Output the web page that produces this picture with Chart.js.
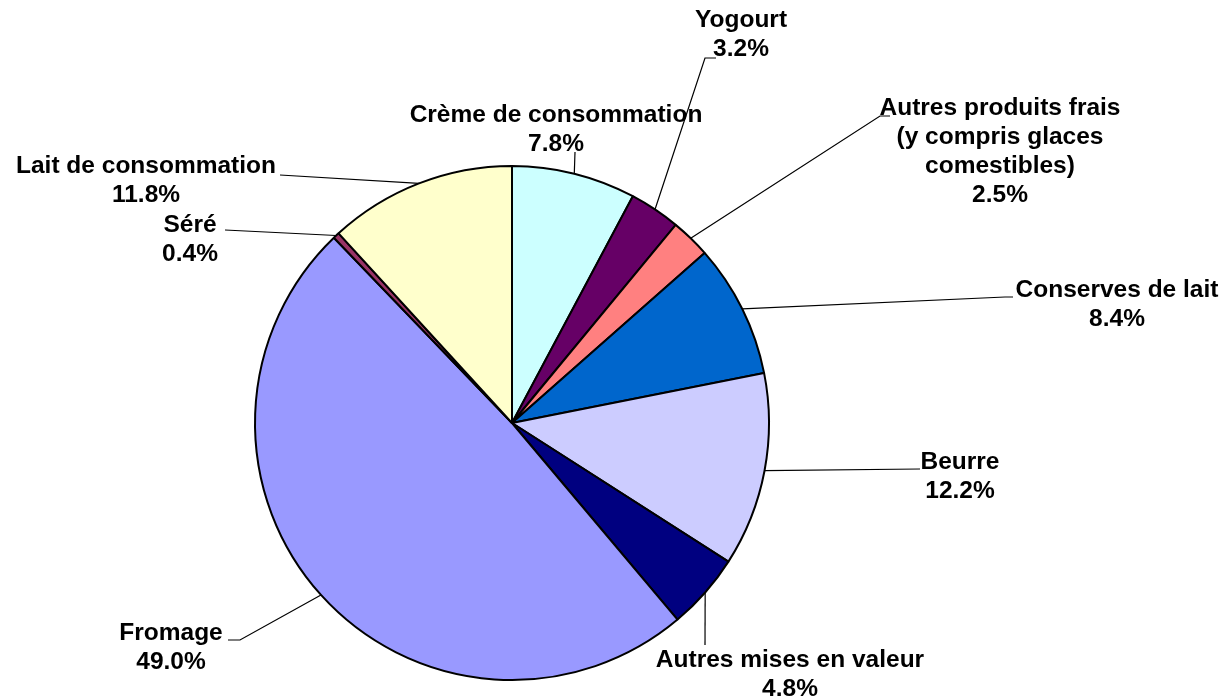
<!DOCTYPE html>
<html lang="fr">
  <head>
    <meta charset="UTF-8" />
    <title>Mise en valeur du lait</title>
    <script src="https://cdn.jsdelivr.net/npm/chart.js@4.4.0/dist/chart.umd.min.js"></script>
    <style>
      html, body { margin: 0; padding: 0; background: #fff; }
      #wrap { width: 1224px; height: 698px; }
    </style>
  </head>
  <body>
    <div id="wrap"><canvas id="myChart" width="1224" height="698"></canvas></div>

    <script>
      // categories and shares (%)
      const categories = [
        'Crème de consommation',
        'Yogourt',
        'Autres produits frais\n(y compris glaces\ncomestibles)',
        'Conserves de lait',
        'Beurre',
        'Autres mises en valeur',
        'Fromage',
        'Séré',
        'Lait de consommation'
      ];
      const shares = [7.8, 3.2, 2.5, 8.4, 12.2, 4.8, 49.0, 0.4, 11.8];
      const sliceColors = ['#CCFFFF', '#660066', '#FF8080', '#0066CC', '#CCCCFF', '#000080', '#9999FF', '#993366', '#FFFFCC'];

      // label placement: text centre, leader elbow, leader end
      const labelLayout = [
        { tx: 556, ty: 115, elbow: [575, 152], end: [575, 152] },
        { tx: 741, ty: 20, elbow: [705, 58], end: [716, 58] },
        { tx: 1000, ty: 108, elbow: [880, 116], end: [890, 116] },
        { tx: 1117, ty: 290, elbow: [1005, 297], end: [1013, 297] },
        { tx: 960, ty: 462, elbow: [920, 469], end: [920, 469] },
        { tx: 790, ty: 660, elbow: [705, 645], end: [705, 645] },
        { tx: 171, ty: 633, elbow: [240, 640], end: [228, 640] },
        { tx: 190, ty: 225, elbow: [225, 230], end: [225, 230] },
        { tx: 146, ty: 166, elbow: [280, 175], end: [280, 175] }
      ];

      const leaderLabels = {
        id: 'leaderLabels',
        afterDatasetsDraw(chart) {
          const ctx = chart.ctx;
          const arcs = chart.getDatasetMeta(0).data;
          ctx.save();
          ctx.strokeStyle = '#000';
          ctx.lineWidth = 1.2;
          ctx.fillStyle = '#000';
          ctx.font = 'bold 24.5px "Liberation Sans", Arial, sans-serif';
          ctx.textAlign = 'center';
          ctx.textBaseline = 'middle';
          arcs.forEach((arc, i) => {
            const p = arc.getProps(['x', 'y', 'startAngle', 'endAngle', 'outerRadius'], true);
            const mid = (p.startAngle + p.endAngle) / 2;
            const sx = p.x + Math.cos(mid) * p.outerRadius;
            const sy = p.y + Math.sin(mid) * p.outerRadius;
            const lay = labelLayout[i];
            ctx.beginPath();
            ctx.moveTo(sx, sy);
            ctx.lineTo(lay.elbow[0], lay.elbow[1]);
            ctx.lineTo(lay.end[0], lay.end[1]);
            ctx.stroke();
            const lines = categories[i].split('\n').concat([shares[i].toFixed(1) + '%']);
            lines.forEach((t, k) => {
              ctx.fillText(t, lay.tx, lay.ty + k * 29);
            });
          });
          ctx.restore();
        }
      };

      const ctx = document.getElementById('myChart').getContext('2d');
      const myChart = new Chart(ctx, {
        type: 'pie',
        data: {
          labels: categories,
          datasets: [{
            data: shares,
            backgroundColor: sliceColors,
            borderColor: '#000',
            borderWidth: 2
          }]
        },
        options: {
          responsive: false,
          animation: false,
          layout: { padding: { left: 254, right: 454, top: 165, bottom: 17 } },
          plugins: {
            legend: { display: false },
            tooltip: { enabled: false }
          }
        },
        plugins: [leaderLabels]
      });
    </script>
  </body>
</html>
